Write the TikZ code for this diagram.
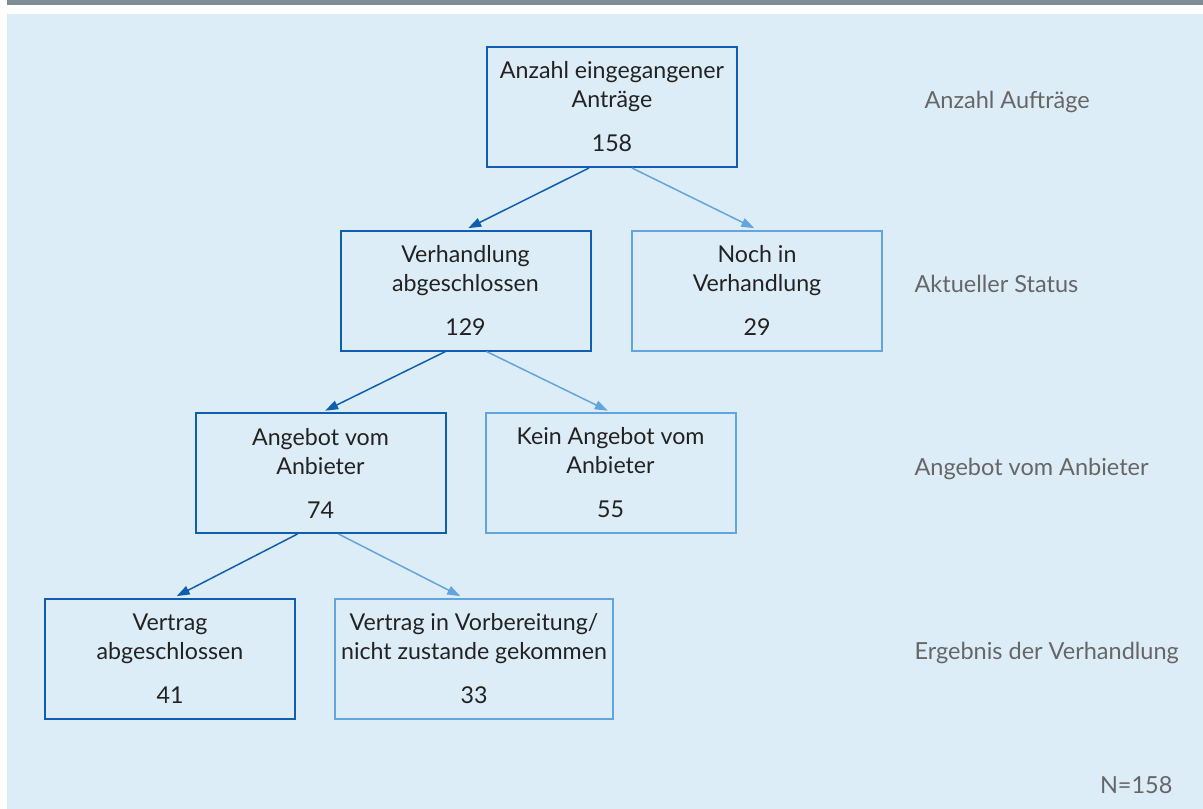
\documentclass[tikz,border=0pt]{standalone}
\usepackage{fontspec}
\setmainfont{Lato}
\usetikzlibrary{arrows.meta}
\definecolor{bg}{HTML}{DDEDF8}
\definecolor{bar}{HTML}{7F8C96}
\definecolor{dblue}{HTML}{0E5FB0}
\definecolor{lblue}{HTML}{62A4DE}
\definecolor{txt}{HTML}{222222}
\definecolor{lbl}{HTML}{666666}
\begin{document}
\begin{tikzpicture}[x=1pt,y=-1pt,
  box/.style={draw, line width=2pt, minimum width=250pt, minimum height=120pt, inner sep=0pt,
    align=center, text=txt, font=\fontsize{23.2}{29}\selectfont},
  dbox/.style={box, draw=dblue},
  lbox/.style={box, draw=lblue},
  darr/.style={draw=dblue, line width=1.5pt, -{Triangle[length=13pt,width=9pt]}, shorten >=3pt},
  larr/.style={draw=lblue, line width=1.5pt, -{Triangle[length=13pt,width=9pt]}, shorten >=3pt},
  lab/.style={anchor=base west, text=lbl, font=\fontsize{23.5}{28}\selectfont}]
\useasboundingbox (0,0) rectangle (1203,809);
\fill[white] (0,0) rectangle (1203,809);
\fill[bar] (7,0) rectangle (1203,5);
\fill[bg] (7,14) rectangle (1203,809);

\node[dbox] (b1) at (612,107) {Anzahl eingegangener\\Antr\"age\\[15pt]158};
\node[dbox] (b2) at (465.5,290.5) {Verhandlung\\abgeschlossen\\[15pt]129};
\node[lbox] (b3) at (757,290.5) {Noch in\\Verhandlung\\[15pt]29};
\node[dbox] (b4) at (320.5,473) {Angebot vom\\Anbieter\\[15pt]74};
\node[lbox] (b5) at (610.5,473) {Kein Angebot vom\\Anbieter\\[15pt]55};
\node[dbox] (b6) at (170,658.5) {Vertrag\\abgeschlossen\\[15pt]41};
\node[lbox, minimum width=278pt] (b7) at (474,658.5) {Vertrag in Vorbereitung/\\nicht zustande gekommen\\[15pt]33};

\draw[darr] ([xshift=-23pt]b1.south) -- (b2.north);
\draw[larr] ([xshift=20pt]b1.south) -- (b3.north);
\draw[darr] ([xshift=-20pt]b2.south) -- ([xshift=2pt]b4.north);
\draw[larr] ([xshift=21pt]b2.south) -- (b5.north);
\draw[darr] ([xshift=-23pt]b4.south) -- ([xshift=4pt]b6.north);
\draw[larr] ([xshift=18pt]b4.south) -- ([xshift=-11pt]b7.north);

\node[lab] (l1) at (921,108) {Anzahl Auftr\"age};
\node[lab] (l2) at (911,292) {Aktueller Status};
\node[lab] (l3) at (911,475) {Angebot vom Anbieter};
\node[lab] (l4) at (911,659) {Ergebnis der Verhandlung};
\node[anchor=base east, text=lbl, font=\fontsize{23.5}{28}\selectfont] (n) at (1176,793) {N=158};
\end{tikzpicture}
\end{document}
